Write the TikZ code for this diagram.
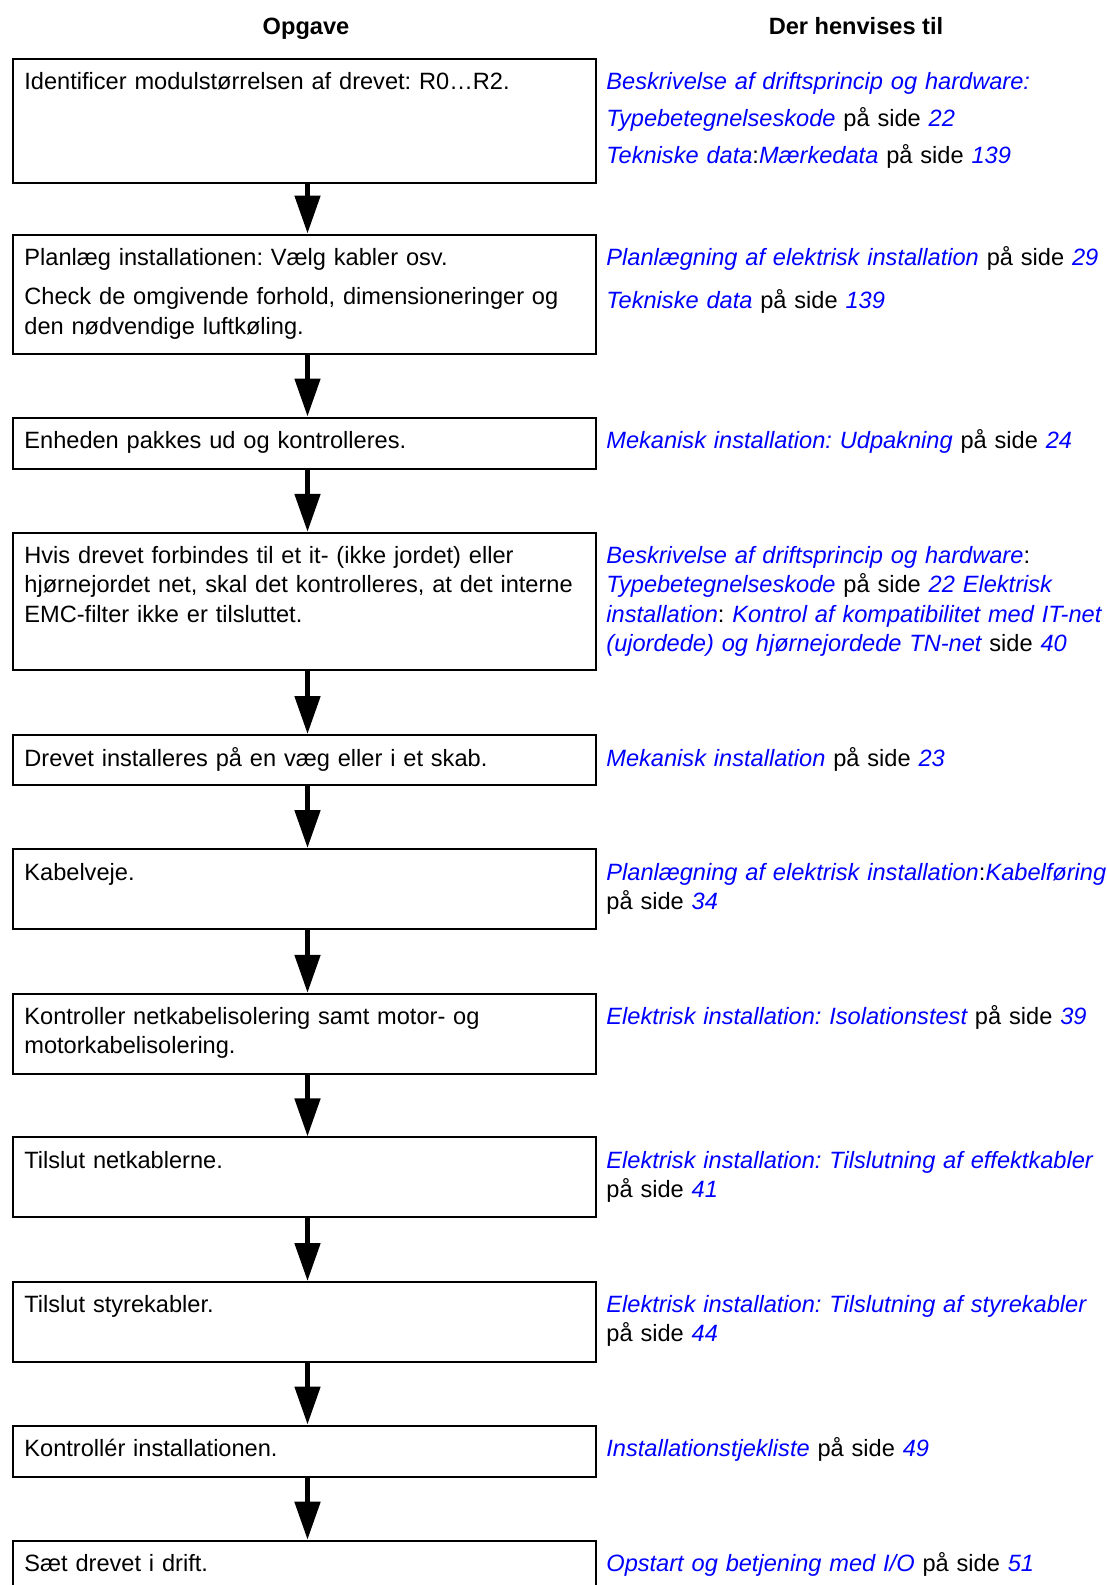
\documentclass[tikz,border=0pt]{standalone}
\usepackage{fontspec}
\setmainfont{Liberation Sans}
\usetikzlibrary{arrows.meta}
\definecolor{linkblue}{RGB}{0,0,255}
\newcommand{\lnk}[1]{{\color{linkblue}\itshape #1}}
\frenchspacing

\begin{document}
\begin{tikzpicture}[x=0.5bp, y=-0.5bp,
    box/.style={draw, line width=1bp, anchor=north west, inner sep=0pt, minimum width=291.5bp},
    task/.style={anchor=base west, inner sep=0pt, text width=285bp, align=left, font=\fontsize{11.8bp}{14.65bp}\selectfont},
    refer/.style={anchor=base west, inner sep=0pt, text width=262bp, align=left, font=\fontsize{11.8bp}{14.65bp}\selectfont},
    head/.style={anchor=base, inner sep=0pt, font=\fontsize{11.8bp}{14.65bp}\selectfont\bfseries},
    flow/.style={line width=2.5bp, -{Triangle[length=19bp, width=12.5bp]}, transform canvas={xshift=1.5bp}}]
    \useasboundingbox (0,0) rectangle (1106,1585);
    \clip (0,0) rectangle (1106,1585);

    % Headings
    \node[head] at (306, 34) (h1) {Opgave};
    \node[head] at (856, 34) (h2) {Der henvises til};

    % Boxes
    \node[box, minimum height=62.2bp] at (12, 57.6) (b1) {};
    \node[box, minimum height=59.6bp] at (12, 233.5) (b2) {};
    \node[box, minimum height=25.8bp] at (12, 416.5) (b3) {};
    \node[box, minimum height=68.6bp] at (12, 531.8) (b4) {};
    \node[box, minimum height=25.2bp] at (12, 734) (b5) {};
    \node[box, minimum height=40bp] at (12, 848) (b6) {};
    \node[box, minimum height=40bp] at (12, 992.8) (b7) {};
    \node[box, minimum height=39.8bp] at (12, 1136.4) (b8) {};
    \node[box, minimum height=39.9bp] at (12, 1281) (b9) {};
    \node[box, minimum height=25.7bp] at (12, 1424.5) (b10) {};
    \node[box, minimum height=40bp] at (12, 1539.7) (b11) {};

    % Tasks
    \node[task] at (24, 89.5) (t1) {Identificer modulstørrelsen af drevet: R0…R2.};
    \node[task] at (24, 265.5) (t2) {Planlæg installationen: Vælg kabler osv.\\[5bp]
      Check de omgivende forhold, dimensioneringer og\\ den nødvendige luftkøling.};
    \node[task] at (24, 448.5) (t3) {Enheden pakkes ud og kontrolleres.};
    \node[task] at (24, 563.5) (t4) {Hvis drevet forbindes til et it- (ikke jordet) eller\\
      hjørnejordet net, skal det kontrolleres, at det interne\\ EMC-filter ikke er tilsluttet.};
    \node[task] at (24, 766) (t5) {Drevet installeres på en væg eller i et skab.};
    \node[task] at (24, 880) (t6) {Kabelveje.};
    \node[task] at (24, 1024.5) (t7) {Kontroller netkabelisolering samt motor- og\\ motorkabelisolering.};
    \node[task] at (24, 1168) (t8) {Tilslut netkablerne.};
    \node[task] at (24, 1312.5) (t9) {Tilslut styrekabler.};
    \node[task] at (24, 1456.5) (t10) {Kontrollér installationen.};
    \node[task] at (24, 1571.5) (t11) {Sæt drevet i drift.};

    % References
    \node[refer] at (606, 89.5) (r1) {\lnk{Beskrivelse af driftsprincip og hardware:}\\[3.8bp]
      \lnk{Typebetegnelseskode} på side \lnk{22}\\[3.8bp]
      \lnk{Tekniske data}:\lnk{Mærkedata} på side \lnk{139}};
    \node[refer] at (606, 265.5) (r2) {\lnk{Planlægning af elektrisk installation} på side \lnk{29}\\[6.6bp]
      \lnk{Tekniske data} på side \lnk{139}};
    \node[refer] at (606, 448.5) (r3) {\lnk{Mekanisk installation: Udpakning} på side \lnk{24}};
    \node[refer] at (606, 563.5) (r4) {\lnk{Beskrivelse af driftsprincip og hardware}:\\
      \lnk{Typebetegnelseskode} på side \lnk{22 Elektrisk}\\
      \lnk{installation}: \lnk{Kontrol af kompatibilitet med IT-net}\\
      \lnk{(ujordede) og hjørnejordede TN-net} side \lnk{40}};
    \node[refer] at (606, 766) (r5) {\lnk{Mekanisk installation} på side \lnk{23}};
    \node[refer] at (606, 880) (r6) {\lnk{Planlægning af elektrisk installation}:\lnk{Kabelføring}\\ på side \lnk{34}};
    \node[refer] at (606, 1024.5) (r7) {\lnk{Elektrisk installation: Isolationstest} på side \lnk{39}};
    \node[refer] at (606, 1168) (r8) {\lnk{Elektrisk installation: Tilslutning af effektkabler}\\ på side \lnk{41}};
    \node[refer] at (606, 1312.5) (r9) {\lnk{Elektrisk installation: Tilslutning af styrekabler}\\ på side \lnk{44}};
    \node[refer] at (606, 1456.5) (r10) {\lnk{Installationstjekliste} på side \lnk{49}};
    \node[refer] at (606, 1571.5) (r11) {\lnk{Opstart og betjening med I/O} på side \lnk{51}};

    % Arrows
    \draw[flow] (b1.south) -- (b2.north);
    \draw[flow] (b2.south) -- (b3.north);
    \draw[flow] (b3.south) -- (b4.north);
    \draw[flow] (b4.south) -- (b5.north);
    \draw[flow] (b5.south) -- (b6.north);
    \draw[flow] (b6.south) -- (b7.north);
    \draw[flow] (b7.south) -- (b8.north);
    \draw[flow] (b8.south) -- (b9.north);
    \draw[flow] (b9.south) -- (b10.north);
    \draw[flow] (b10.south) -- (b11.north);
  \end{tikzpicture}
\end{document}
